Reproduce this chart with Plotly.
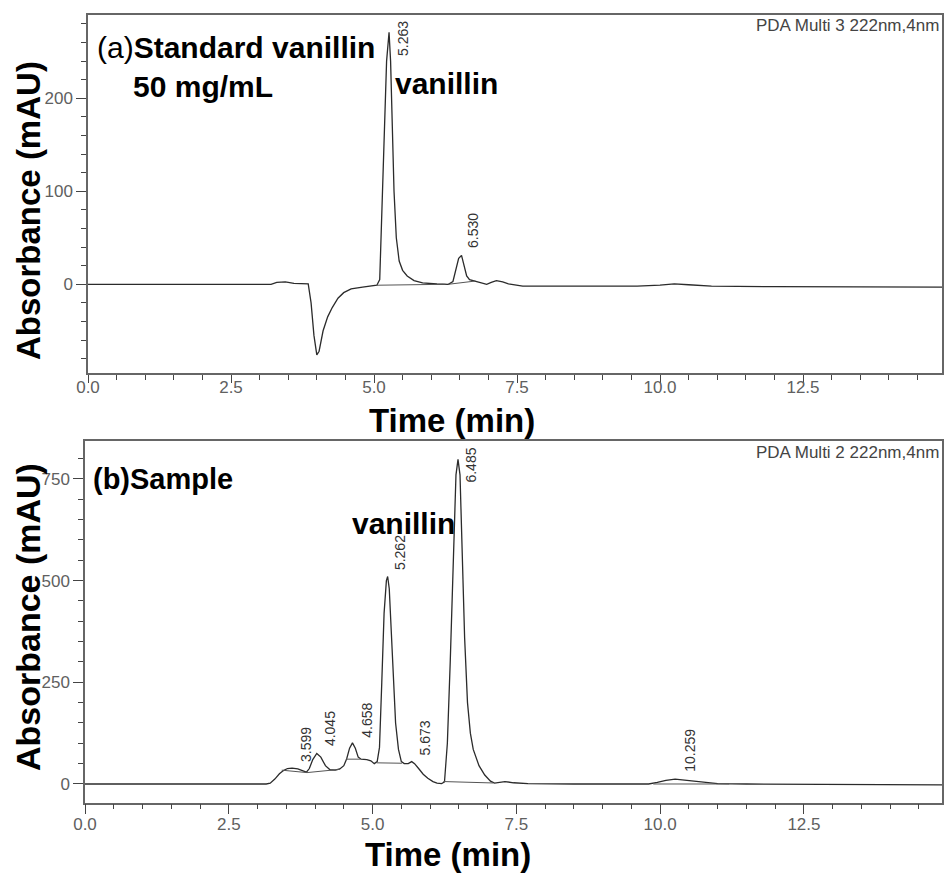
import plotly.graph_objects as go

W, H = 946, 873

# ---------------- Data ----------------
# (a) Standard vanillin chromatogram: time (min), absorbance (mAU)
std_time = [0.0, 3.2, 3.3, 3.45, 3.6, 3.85, 3.9, 3.95, 4.0, 4.04, 4.11, 4.19, 4.27, 4.37, 4.47,
            4.6, 4.8, 5.05, 5.10, 5.14, 5.18, 5.22, 5.263, 5.29, 5.32, 5.35, 5.39, 5.44, 5.50,
            5.58, 5.70, 5.85, 6.10, 6.30, 6.38, 6.43, 6.48, 6.53, 6.57, 6.62, 6.67, 6.77, 6.87,
            6.97, 7.05, 7.14, 7.25, 7.35, 7.6, 9.6, 10.0, 10.25, 10.5, 10.9, 12.0, 15.0]
std_abs = [0.0, 0.0, 2.0, 2.5, 1.0, 0.5, -20, -55, -76, -72, -50, -35, -25, -15, -9,
           -5, -3, -1, 5, 80, 170, 240, 271, 240, 170, 100, 50, 25, 15,
           9, 4, 1.5, 0.3, 0.0, 3, 15, 28, 31, 22, 9, 5, 3.5, 1.5,
           0.0, 2, 4, 2.5, 0.5, -2, -2, -1, 0.5, -0.5, -2, -2.5, -3]
# integration baselines (start/end time and level)
std_base_time = [[5.05, 6.25], [6.30, 6.77]]
std_base_abs = [[-1, 0], [0, 3.5]]

# (b) Sample chromatogram
smp_time = [0.0, 3.15, 3.22, 3.3, 3.38, 3.45, 3.52, 3.6, 3.7, 3.78, 3.85, 3.9, 3.96, 4.03, 4.1,
            4.18, 4.26, 4.35, 4.43, 4.5, 4.55, 4.6, 4.65, 4.7, 4.75, 4.8, 4.9, 4.97, 5.03,
            5.08, 5.12, 5.16, 5.2, 5.24, 5.262, 5.29, 5.33, 5.36, 5.4, 5.45, 5.5, 5.55, 5.62,
            5.68, 5.73, 5.8, 5.88, 5.96, 6.05, 6.12, 6.2, 6.25, 6.30, 6.35, 6.40, 6.45, 6.485,
            6.52, 6.56, 6.60, 6.65, 6.70, 6.75, 6.85, 6.95, 7.05, 7.12, 7.2, 7.3, 7.45, 7.7,
            8.5, 9.8, 9.95, 10.1, 10.26, 10.45, 10.7, 11.0, 11.5, 13.0, 15.0]
smp_abs = [0.0, 0.0, 2, 12, 25, 33, 38, 39, 37, 33, 29, 38, 60, 75, 66,
           45, 35, 34, 37, 45, 62, 88, 101, 88, 66, 61, 60, 57, 50,
           55, 90, 250, 420, 500, 510, 480, 350, 250, 150, 85, 55, 50, 50,
           55, 50, 38, 24, 14, 6, 2, 1, 5, 100, 300, 560, 760, 798,
           760, 560, 360, 200, 125, 85, 45, 22, 7, 2, 4, 6, 3, 1,
           0, 0, 4, 9, 12, 9, 4, 1, 0, -1, -2]
smp_base_time = [[3.42, 3.86], [3.86, 4.43], [4.54, 4.79], [5.07, 5.51], [6.23, 7.1], [9.88, 11.2]]
smp_base_abs = [[34, 28], [28, 36], [61, 61], [52, 51], [6, 2.5], [0, 0]]

# peak retention-time labels
std_peaks = ["5.263", "6.530"]
smp_peaks = ["6.485", "5.262", "4.658", "4.045", "3.599", "5.673", "10.259"]

x_ticks = [0.0, 2.5, 5.0, 7.5, 10.0, 12.5]
std_y_ticks = [0, 100, 200]
smp_y_ticks = [0, 250, 500, 750]

# ---------------- Figure ----------------
FONT = "Liberation Sans, Arial, sans-serif"
LINE = "#2b2b2b"
fig = go.Figure()

fig.add_trace(go.Scatter(x=std_time, y=std_abs, mode="lines", xaxis="x", yaxis="y",
                         line=dict(color=LINE, width=1.3), showlegend=False, hoverinfo="skip"))
for bt, ba in zip(std_base_time, std_base_abs):
    fig.add_trace(go.Scatter(x=bt, y=ba, mode="lines", xaxis="x", yaxis="y",
                             line=dict(color="#555", width=1), showlegend=False, hoverinfo="skip"))

fig.add_trace(go.Scatter(x=smp_time, y=smp_abs, mode="lines", xaxis="x2", yaxis="y2",
                         line=dict(color=LINE, width=1.3), showlegend=False, hoverinfo="skip"))
for bt, ba in zip(smp_base_time, smp_base_abs):
    fig.add_trace(go.Scatter(x=bt, y=ba, mode="lines", xaxis="x2", yaxis="y2",
                             line=dict(color="#555", width=1), showlegend=False, hoverinfo="skip"))

def px_x(p):
    return p / W

def px_y(p):
    return 1 - p / H

axis_common = dict(showgrid=False, zeroline=False, showline=True, mirror=True,
                   linecolor="#666", linewidth=1.5, ticks="outside", ticklen=10,
                   tickcolor="#444", tickwidth=1,
                   tickfont=dict(family=FONT, size=17, color="#606060"),
                   automargin=False, fixedrange=True)

fig.update_layout(
    width=W, height=H, margin=dict(l=0, r=0, t=0, b=0),
    paper_bgcolor="white", plot_bgcolor="white", template="none",
    xaxis=dict(axis_common, domain=[px_x(88), px_x(942)], range=[0, 14.93], anchor="y",
               tickvals=x_ticks, tickformat=".1f", ticklabelstandoff=-10, ticklen=8,
               minor=dict(dtick=0.5, tick0=0, ticks="outside", ticklen=5, tickcolor="#444")),
    yaxis=dict(axis_common, domain=[px_y(373), px_y(15)], range=[-95.4, 289.6], anchor="x",
               tickvals=std_y_ticks,
               minor=dict(dtick=20, tick0=0, ticks="outside", ticklen=5, tickcolor="#444")),
    xaxis2=dict(axis_common, domain=[px_x(85), px_x(942)], range=[0, 14.9], anchor="y2",
                tickvals=x_ticks, tickformat=".1f", ticklabelstandoff=-5,
                minor=dict(dtick=0.5, tick0=0, ticks="outside", ticklen=5, tickcolor="#444")),
    yaxis2=dict(axis_common, domain=[px_y(802.7), px_y(440.7)], range=[-46, 843.9], anchor="x2",
                tickvals=smp_y_ticks,
                minor=dict(dtick=50, tick0=0, ticks="outside", ticklen=5, tickcolor="#444")),
)

ann = []
def text_px(txt, x, y, size, xanchor="left", angle=0, color="black"):
    ann.append(dict(text=txt, x=px_x(x), y=px_y(y), xref="paper", yref="paper",
                    xanchor=xanchor, yanchor="middle", showarrow=False, textangle=angle,
                    font=dict(family=FONT, size=size, color=color)))

text_px("(a)<b>Standard vanillin</b>", 95, 47, 30)
text_px("<b>50 mg/mL</b>", 131, 87, 30)
text_px("<b>vanillin</b>", 393, 84, 30)
text_px("<b>(b)Sample</b>", 91, 479, 29)
text_px("<b>vanillin</b>", 350, 523, 30)
text_px("<b>Absorbance (mAU)</b>", 28, 211, 33, xanchor="center", angle=-90)
text_px("<b>Absorbance (mAU)</b>", 28, 617, 34, xanchor="center", angle=-90)
text_px("<b>Time (min)</b>", 452, 420, 33, xanchor="center")
text_px("<b>Time (min)</b>", 448, 854, 33, xanchor="center")
text_px("PDA Multi 3 222nm,4nm", 941, 25, 17, xanchor="right", color="#444")
text_px("PDA Multi 2 222nm,4nm", 941, 452, 17, xanchor="right", color="#444")

# peak labels (data coordinates)
std_label_pos = [(5.507, 263.8), (6.72, 57.8)]
smp_label_pos = [(6.72, 784), (5.48, 568), (4.913, 157), (4.26, 135), (3.84, 98), (5.91, 114), (10.52, 82)]
for lab, (lx, ly) in zip(std_peaks, std_label_pos):
    ann.append(dict(text=lab, x=lx, y=ly, xref="x", yref="y", showarrow=False, textangle=-90,
                    xanchor="center", yanchor="middle",
                    font=dict(family=FONT, size=14, color="#333")))
for lab, (lx, ly) in zip(smp_peaks, smp_label_pos):
    ann.append(dict(text=lab, x=lx, y=ly, xref="x2", yref="y2", showarrow=False, textangle=-90,
                    xanchor="center", yanchor="middle",
                    font=dict(family=FONT, size=14, color="#333")))

fig.update_layout(annotations=ann)
fig.write_html("out.html", config={"displayModeBar": False},
               post_script="document.body.style.margin='0';document.body.style.overflow='hidden';")
